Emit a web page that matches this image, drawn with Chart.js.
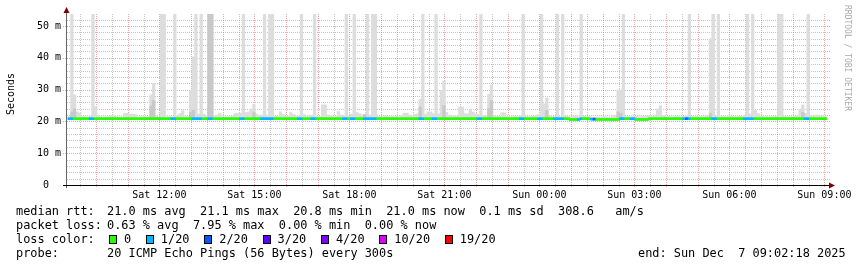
<!DOCTYPE html>
<html>
<head>
<meta charset="utf-8">
<script src="https://cdn.jsdelivr.net/npm/chart.js@4.4.1/dist/chart.umd.min.js"></script>
<style>
  html, body { margin: 0; padding: 0; background: #fff; }
  #wrap { position: relative; width: 857px; height: 267px; overflow: hidden; background: #fff; }
  #wrap canvas { position: absolute; left: 0; top: 0; }
  .leg { position: absolute; font: 11.9px "DejaVu Sans Mono", monospace; color: #000; white-space: pre; line-height: 14px; }
  .box { position: absolute; width: 6px; height: 7px; border: 1px solid #000; }
</style>
</head>
<body>
<div id="wrap">
  <canvas id="smokeChart" width="857" height="267"></canvas>
</div>
<script>
// 288 five-minute steps, Sat 09:05 -> Sun 09:05
const smokeHi = [
  21.5, 60, 28.3, 23.0, 22.6, 21.5, 21.5, 21.4, 21.6, 60, 24.6, 22.0, 21.5, 21.4, 21.4, 21.5, 21.9, 21.9, 21.5, 21.4, 21.4, 22.5, 22.5, 22.3,
  22.3, 22.2, 21.4, 21.4, 21.5, 21.4, 21.5, 28.3, 32.0, 21.8, 21.4, 60, 60, 21.5, 21.5, 21.4, 60, 21.6, 22.5, 23.4, 21.5, 21.5, 29.9, 40.3,
  60, 22.3, 60, 22.3, 21.6, 60, 60, 21.6, 22.0, 22.6, 21.5, 21.5, 21.4, 21.5, 21.6, 22.5, 22.6, 22.6, 60, 22.8, 23.0, 23.9, 25.4, 22.3,
  21.8, 22.0, 60, 22.0, 60, 60, 21.6, 21.6, 23.0, 22.2, 21.6, 21.7, 22.8, 22.2, 21.7, 21.6, 60, 22.2, 21.6, 21.8, 22.0, 60, 21.6, 21.6,
  25.2, 25.2, 22.0, 21.8, 21.6, 21.6, 23.1, 22.0, 21.7, 60, 21.7, 22.3, 60, 22.8, 22.4, 22.0, 21.8, 60, 22.0, 60, 60, 21.6, 21.5, 21.5,
  21.8, 21.6, 21.5, 21.5, 21.6, 21.5, 21.8, 22.6, 22.6, 22.0, 21.7, 22.2, 22.4, 27.0, 60, 22.3, 23.0, 23.0, 22.4, 60, 22.4, 29.8, 32.7, 22.8,
  22.0, 21.6, 21.8, 21.6, 24.5, 24.5, 22.4, 22.4, 23.9, 22.9, 22.4, 22.2, 60, 21.8, 21.8, 28.6, 31.4, 21.7, 21.6, 21.6, 22.7, 22.7, 21.6, 21.5,
  21.5, 21.6, 21.5, 21.8, 60, 21.6, 21.5, 21.5, 21.7, 22.0, 22.2, 60, 25.5, 27.4, 21.6, 21.5, 21.5, 60, 21.5, 60, 21.6, 21.5, 21.5, 21.8,
  21.8, 21.5, 60, 21.6, 21.5, 21.5, 21.4, 21.4, 21.4, 21.4, 21.5, 21.5, 21.4, 21.4, 21.8, 22.0, 29.9, 29.9, 60, 21.5, 21.5, 21.4, 21.4, 21.5,
  21.5, 21.6, 21.6, 21.8, 21.7, 21.6, 22.0, 23.9, 24.9, 21.9, 21.6, 21.5, 21.5, 21.4, 21.5, 21.5, 21.4, 21.6, 21.8, 60, 21.6, 21.5, 21.6, 21.5,
  21.5, 21.6, 21.8, 46.0, 60, 21.6, 60, 21.6, 21.5, 21.5, 21.8, 21.6, 21.5, 21.5, 21.6, 21.6, 21.9, 60, 22.3, 60, 23.6, 22.5, 21.6, 21.5,
  21.5, 21.4, 21.5, 21.5, 21.6, 60, 60, 21.6, 21.5, 21.5, 21.5, 21.6, 21.8, 23.9, 25.2, 22.5, 60, 21.8, 21.6, 22.0, 22.0, 21.6, 21.5, 21.5
];

// [step, top of the denser smoke]
const darkSmoke = [
  [1, 23.0], [2, 24.0], [31, 24.8], [32, 26.5], [46, 22.8], [47, 23.5], [53, 60], [54, 60],
  [70, 22.8], [112, 22.2], [133, 24.5], [142, 25.0], [159, 24.0], [160, 26.5], [181, 23.5],
  [208, 23.0], [209, 22.5], [243, 22.5], [278, 22.8]
];

const median = [
  20.85, 20.85, 20.85, 20.85, 20.85, 20.85, 20.85, 20.85, 20.85, 20.85, 20.85, 20.85, 20.85, 20.85, 20.85, 20.85, 20.85, 20.85, 20.85, 20.85, 20.85, 20.85, 20.85, 20.85,
  20.85, 20.85, 20.85, 20.85, 20.85, 20.85, 20.85, 20.85, 20.85, 20.85, 20.85, 20.85, 20.85, 20.85, 20.85, 20.85, 20.85, 20.85, 20.85, 20.85, 20.85, 20.85, 20.85, 20.85,
  20.85, 20.85, 20.85, 20.85, 20.85, 20.85, 20.85, 20.85, 20.85, 20.85, 20.85, 20.85, 20.85, 20.85, 20.85, 20.85, 20.85, 20.85, 20.85, 20.85, 20.85, 20.85, 20.85, 20.85,
  20.85, 20.85, 20.85, 20.85, 20.85, 20.85, 20.85, 20.85, 20.85, 20.85, 20.85, 20.85, 20.85, 20.85, 20.85, 20.85, 20.85, 20.85, 20.85, 20.85, 20.85, 20.85, 20.85, 20.85,
  20.85, 20.85, 20.85, 20.85, 20.85, 20.85, 20.85, 20.85, 20.85, 20.85, 20.85, 20.85, 20.85, 20.85, 20.85, 20.85, 20.85, 20.85, 20.85, 20.85, 20.85, 20.85, 20.85, 20.85,
  20.85, 20.85, 20.85, 20.85, 20.85, 20.85, 20.85, 20.85, 20.85, 20.85, 20.85, 20.85, 20.85, 20.85, 20.85, 20.85, 20.85, 20.85, 20.85, 20.85, 20.85, 20.85, 20.85, 20.85,
  20.85, 20.85, 20.85, 20.85, 20.85, 20.85, 20.85, 20.85, 20.85, 20.85, 20.85, 20.85, 20.85, 20.85, 20.85, 20.85, 20.85, 20.85, 20.85, 20.85, 20.85, 20.85, 20.85, 20.85,
  20.85, 20.85, 20.85, 20.85, 20.85, 20.85, 20.85, 20.85, 20.85, 20.85, 20.85, 20.85, 20.85, 20.85, 20.85, 20.85, 20.85, 20.85, 20.85, 20.85, 20.85, 20.85, 20.6, 20.6,
  20.6, 20.6, 20.85, 20.85, 20.85, 20.85, 20.7, 20.7, 20.6, 20.6, 20.6, 20.6, 20.6, 20.6, 20.6, 20.6, 20.6, 20.85, 20.85, 20.85, 20.85, 20.85, 20.85, 20.6,
  20.6, 20.6, 20.6, 20.6, 20.85, 20.85, 20.85, 20.85, 20.85, 20.85, 20.85, 20.85, 20.85, 20.85, 20.85, 20.85, 20.85, 20.85, 20.85, 20.85, 20.85, 20.85, 20.85, 20.85,
  20.85, 20.85, 20.85, 20.85, 20.85, 20.85, 20.85, 20.85, 20.85, 20.85, 20.85, 20.85, 20.85, 20.85, 20.85, 20.85, 20.85, 20.85, 20.85, 20.85, 20.85, 20.85, 20.85, 20.85,
  20.85, 20.85, 20.85, 20.85, 20.85, 20.85, 20.85, 20.85, 20.85, 20.85, 20.85, 20.85, 20.85, 20.85, 20.85, 20.85, 20.85, 20.85, 20.85, 20.85, 20.85, 20.85, 20.85, 20.85
];

// lost pings out of 20 per step
const loss = [
  1, 1, 0, 0, 0, 0, 0, 0, 1, 1, 0, 0, 0, 0, 0, 0, 0, 0, 0, 0, 0, 0, 0, 0,
  0, 0, 0, 0, 0, 0, 0, 0, 0, 0, 0, 0, 0, 0, 0, 1, 1, 0, 0, 0, 0, 0, 0, 1,
  1, 1, 1, 0, 0, 1, 1, 0, 0, 0, 0, 0, 0, 0, 0, 0, 0, 1, 1, 0, 0, 0, 0, 0,
  0, 1, 1, 1, 1, 1, 0, 0, 0, 0, 0, 0, 0, 0, 0, 1, 1, 0, 0, 0, 1, 1, 0, 0,
  0, 0, 0, 0, 0, 0, 0, 0, 1, 1, 0, 1, 1, 0, 0, 0, 1, 1, 1, 1, 1, 0, 0, 0,
  0, 0, 0, 0, 0, 0, 0, 0, 0, 0, 0, 0, 0, 1, 1, 0, 0, 0, 1, 1, 0, 0, 0, 0,
  0, 0, 0, 0, 0, 0, 0, 0, 0, 0, 0, 1, 1, 0, 0, 0, 0, 0, 0, 0, 0, 0, 0, 0,
  0, 0, 0, 1, 1, 0, 0, 0, 0, 0, 1, 1, 0, 0, 0, 0, 1, 1, 1, 1, 0, 0, 0, 0,
  0, 1, 1, 0, 0, 0, 1, 2, 0, 0, 0, 0, 0, 0, 0, 0, 0, 1, 1, 0, 0, 1, 1, 0,
  0, 0, 0, 0, 0, 0, 0, 0, 0, 0, 0, 0, 0, 0, 0, 0, 0, 1, 2, 1, 0, 0, 0, 0,
  0, 0, 0, 0, 1, 1, 0, 0, 0, 0, 0, 0, 0, 0, 0, 0, 1, 1, 1, 1, 0, 0, 0, 0,
  0, 0, 0, 0, 0, 0, 0, 0, 0, 0, 0, 0, 0, 0, 0, 1, 1, 0, 0, 0, 0, 0, 0, 0
];

const lossLevels = [0, 1, 2, 3, 4, 10, 19];
const lossLabels = ["0", "1/20", "2/20", "3/20", "4/20", "10/20", "19/20"];
const lossColors = ["#26ff00", "#00b8ff", "#0059ff", "#5e00ff", "#7e00ff", "#dd00ff", "#ff0000"];

const xLabels = ["Sat 12:00", "Sat 15:00", "Sat 18:00", "Sat 21:00", "Sun 00:00", "Sun 03:00", "Sun 06:00", "Sun 09:00"];
const xLabelSteps = [35, 71, 107, 143, 179, 215, 251, 287];
const yLabelValues = [0, 10, 20, 30, 40, 50];
const yLabels = ["0  ", "10 m", "20 m", "30 m", "40 m", "50 m"];

const legendRows = [
  ["median rtt:", "21.0 ms avg  21.1 ms max  20.8 ms min  21.0 ms now  0.1 ms sd  308.6   am/s"],
  ["packet loss:", "0.63 % avg  7.95 % max  0.00 % min  0.00 % now"],
  ["loss color:", ""],
  ["probe:", "20 ICMP Echo Pings (56 Bytes) every 300s"]
];
const endStamp = "end: Sun Dec  7 09:02:18 2025";

const Y_MAX = 53.77;
const SMOKE_FLOOR = 20.5;
const BAND = 0.32;
const SHIFT = 0.85;
const RED = "rgba(220, 90, 90, 0.55)";
const GREY = "rgba(140, 140, 140, 0.5)";
const MONO = '"DejaVu Sans Mono", monospace';

// half-hour grid (steps from 09:05), hour lines every 12 steps
const xGrid = [];
for (let v = 5; v < 288; v += 6) xGrid.push(v);
const yGrid = [];
for (let v = 0; v <= 52; v += 2) yGrid.push(v);
const isHour = v => (v - 11) % 12 === 0;

function colorForLoss(n) {
  let c = lossColors[0];
  lossLevels.forEach((lv, k) => { if (n >= lv) c = lossColors[k]; });
  return c;
}

const grid = {
  id: "rrdgrid",
  beforeDatasetsDraw(chart) {
    const { ctx, chartArea: a, scales: { x, y } } = chart;
    ctx.save();
    ctx.lineWidth = 1;
    ctx.setLineDash([1, 1]);
    [false, true].forEach(major => {
      ctx.strokeStyle = major ? RED : GREY;
      yGrid.filter(v => (v % 10 === 0) === major && v > 0).forEach(v => {
        const py = Math.round(y.getPixelForValue(v)) + 0.5;
        ctx.beginPath(); ctx.moveTo(major ? a.left - 4 : a.left, py); ctx.lineTo(a.right + 3, py); ctx.stroke();
      });
      xGrid.filter(v => isHour(v) === major).forEach(v => {
        const px = Math.round(x.getPixelForValue(v)) + 0.5;
        ctx.beginPath(); ctx.moveTo(px, a.top); ctx.lineTo(px, a.bottom + 3); ctx.stroke();
      });
    });
    ctx.restore();
  }
};

const decor = {
  id: "decor",
  afterDraw(chart) {
    const { ctx, chartArea: a, scales: { x, y } } = chart;
    ctx.save();
    ctx.lineWidth = 1;

    // axes
    const by = Math.round(y.getPixelForValue(0)) + 0.5;
    ctx.strokeStyle = "#666";
    ctx.beginPath(); ctx.moveTo(a.left - 0.5, a.bottom + 3); ctx.lineTo(a.left - 0.5, a.top - 3); ctx.stroke();
    ctx.strokeStyle = "#000";
    ctx.beginPath(); ctx.moveTo(a.left - 4, by); ctx.lineTo(a.right + 3, by); ctx.stroke();

    ctx.fillStyle = "#7f0000";
    ctx.beginPath();
    ctx.moveTo(a.left - 0.5, a.top - 7); ctx.lineTo(a.left - 3.5, a.top - 1); ctx.lineTo(a.left + 2.5, a.top - 1);
    ctx.closePath(); ctx.fill();
    ctx.beginPath();
    ctx.moveTo(a.right + 8, by); ctx.lineTo(a.right + 2, by - 3); ctx.lineTo(a.right + 2, by + 3);
    ctx.closePath(); ctx.fill();

    // tick labels
    ctx.fillStyle = "#000";
    ctx.font = "10px " + MONO;
    ctx.textBaseline = "middle";
    ctx.textAlign = "center";
    xLabels.forEach((t, k) => ctx.fillText(t, x.getPixelForValue(xLabelSteps[k]), a.bottom + 10));
    ctx.textAlign = "right";
    yLabels.forEach((t, k) => ctx.fillText(t, a.left - 6, y.getPixelForValue(yLabelValues[k])));

    ctx.save();
    ctx.translate(11.5, 94);
    ctx.rotate(-Math.PI / 2);
    ctx.textAlign = "center";
    ctx.font = "10px " + MONO;
    ctx.fillText("Seconds", 0, 0);
    ctx.restore();

    ctx.save();
    ctx.translate(847, 5);
    ctx.rotate(Math.PI / 2);
    ctx.textAlign = "left";
    ctx.fillStyle = "#aaa";
    ctx.font = "8px " + MONO;
    ctx.fillText("RRDTOOL / TOBI OETIKER", 0, 0);
    ctx.restore();
    ctx.restore();
  }
};

new Chart(document.getElementById("smokeChart"), {
  type: "bar",
  data: {
    datasets: [
      {
        label: "median",
        data: median.map((m, i) => ({ x: i + SHIFT, y: [m - BAND, m + BAND] })),
        backgroundColor: loss.map(colorForLoss),
        order: 0
      },
      {
        label: "dense smoke",
        data: darkSmoke.map(([i, t]) => ({ x: i + SHIFT, y: [SMOKE_FLOOR, t] })),
        backgroundColor: "#c8c8c8",
        order: 1
      },
      {
        label: "smoke",
        data: smokeHi.map((h, i) => ({ x: i + SHIFT, y: [SMOKE_FLOOR, h] })),
        backgroundColor: "#dddddd",
        order: 2
      }
    ]
  },
  options: {
    responsive: false,
    animation: false,
    events: [],
    datasets: { bar: { grouped: false, barPercentage: 1, categoryPercentage: 1, borderWidth: 0 } },
    layout: { padding: { left: 67, right: 30, top: 14, bottom: 82 } },
    plugins: { legend: { display: false }, tooltip: { enabled: false } },
    scales: {
      x: {
        type: "linear", min: 0, max: 288, offset: false,
        ticks: { display: false },
        grid: { display: false, offset: false, drawTicks: false },
        border: { display: false }
      },
      y: {
        type: "linear", min: 0, max: Y_MAX,
        ticks: { display: false },
        grid: { display: false, drawTicks: false },
        border: { display: false }
      }
    }
  },
  plugins: [grid, decor]
});

// text legend below the plot
const wrap = document.getElementById("wrap");
function addText(txt, left, top) {
  const d = document.createElement("div");
  d.className = "leg";
  d.textContent = txt;
  d.style.left = left + "px";
  d.style.top = top + "px";
  wrap.appendChild(d);
  return d;
}
legendRows.forEach(([head, body], r) => {
  addText(head, 16, 204 + r * 14);
  if (body) addText(body, 107, 204 + r * 14);
});
addText(endStamp, 638, 204 + 3 * 14);

const charW = 7.164;
let bx = 109;
lossLabels.forEach((lab, k) => {
  const b = document.createElement("div");
  b.className = "box";
  b.style.left = bx + "px";
  b.style.top = "235px";
  b.style.background = lossColors[k];
  wrap.appendChild(b);
  addText(lab, bx + 15, 204 + 2 * 14);
  bx = bx + 15 + lab.length * charW + 14.7;
});
</script>
</body>
</html>
